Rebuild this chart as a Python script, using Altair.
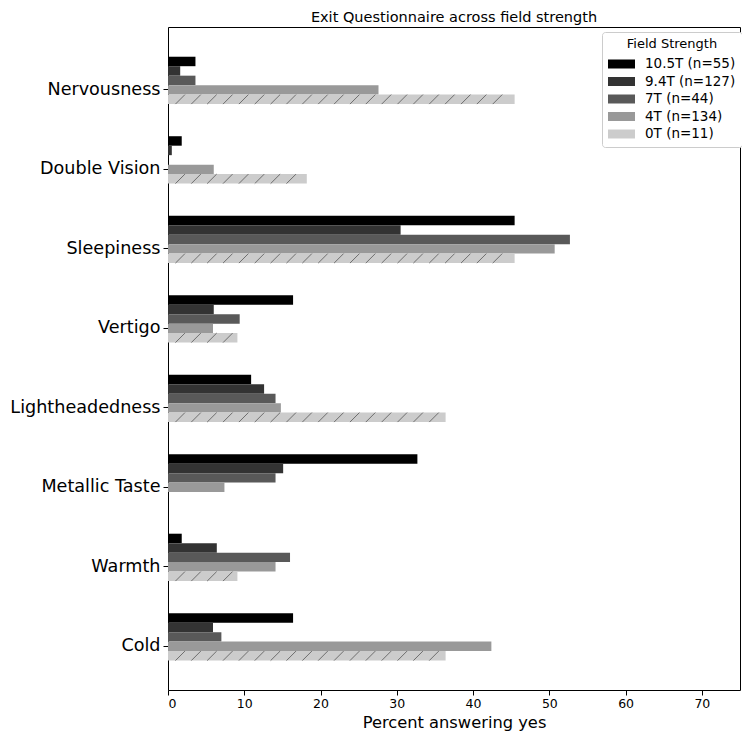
import altair as alt
import pandas as pd

categories = ["Nervousness", "Double Vision", "Sleepiness", "Vertigo",
              "Lightheadedness", "Metallic Taste", "Warmth", "Cold"]
series = ["10.5T (n=55)", "9.4T (n=127)", "7T (n=44)", "4T (n=134)", "0T (n=11)"]
values_10_5T = [3.6, 1.8, 45.45, 16.4, 10.9, 32.7, 1.8, 16.4]
values_9_4T = [1.6, 0.5, 30.5, 6.0, 12.6, 15.1, 6.4, 5.9]
values_7T = [3.6, 0.0, 52.7, 9.4, 14.1, 14.1, 16.0, 7.0]
values_4T = [27.6, 6.0, 50.7, 5.9, 14.8, 7.4, 14.1, 42.4]
values_0T = [45.45, 18.2, 45.45, 9.1, 36.4, 0.0, 9.1, 36.4]
colors = ["#000000", "#333333", "#595959", "#999999", "#cccccc"]
x_ticks = [0, 10, 20, 30, 40, 50, 60, 70]

rows = []
for s, vals in zip(series, [values_10_5T, values_9_4T, values_7T, values_4T, values_0T]):
    for c, v in zip(categories, vals):
        rows.append({"symptom": c, "field": s, "pct": v})
df = pd.DataFrame(rows)

offset_domain = series + ["_a", "_b"]

font = "DejaVu Sans"
x_title = "Percent answering yes"

y_enc = alt.Y(
    "symptom:N", sort=categories,
    scale=alt.Scale(paddingInner=0.166, paddingOuter=0.253, align=0.739),
    axis=alt.Axis(title=None, labelFontSize=17.6, tickSize=5, labelPadding=3,
                  domain=False, labelColor="black", tickColor="black"),
)
yoff_enc = alt.YOffset("field:N", scale=alt.Scale(domain=offset_domain, paddingInner=0, paddingOuter=0))
x_axis = alt.Axis(values=x_ticks, tickSize=5, labelPadding=2, labelFontSize=12.5,
                  labelColor="black", tickColor="black", grid=False, domain=False,
                  titleFontSize=16.3, titleFontWeight="normal", titlePadding=5, titleColor="black")
x_scale = alt.Scale(domain=[0, 75], nice=False, zero=True)

bars = alt.Chart(df).mark_bar().encode(
    x=alt.X("pct:Q", scale=x_scale, axis=x_axis, title=x_title),
    y=y_enc,
    yOffset=yoff_enc,
    color=alt.Color(
        "field:N",
        scale=alt.Scale(domain=series, range=colors),
        legend=alt.Legend(
            title="Field Strength", orient="none", legendX=434, legendY=5,
            titleFontSize=13, titleFontWeight="normal", titleAnchor="middle",
            titleColor="black", titlePadding=4,
            labelFontSize=13.5, labelColor="black",
            symbolType="M-1,-0.5H2V0.5H-1Z", symbolSize=324, symbolStrokeWidth=0,
            labelOffset=19, rowPadding=1.5, padding=6,
            fillColor="white", strokeColor="#cccccc", cornerRadius=3,
        ),
    ),
)

hatch = alt.Chart(df).transform_filter(
    alt.datum.field == series[4]
).transform_calculate(
    k="sequence(0, max(0, floor((datum.pct - 2.1) / 2.08) + 1))"
).transform_flatten(["k"]).transform_calculate(
    hx="1.6 + 2.08 * datum.k"
).mark_point(
    shape="M-1,1L1,-1", filled=False, size=90, color="#6e6e6e",
    strokeWidth=1, opacity=1,
).encode(
    x=alt.X("hx:Q", scale=x_scale, axis=x_axis, title=x_title),
    y=y_enc,
    yOffset=yoff_enc,
)

chart = alt.layer(bars, hatch).properties(
    width=572, height=663,
    title=alt.TitleParams("Exit Questionnaire across field strength", fontSize=14.5,
                          fontWeight="normal", font=font, offset=2, color="black"),
    autosize=alt.AutoSizeParams(type="none"),
    padding={"left": 160, "top": 19, "right": 2, "bottom": 42},
).configure(font=font).configure_view(stroke="black", strokeWidth=1)

chart.save("out.html", embed_options={"renderer": "svg", "actions": False})
